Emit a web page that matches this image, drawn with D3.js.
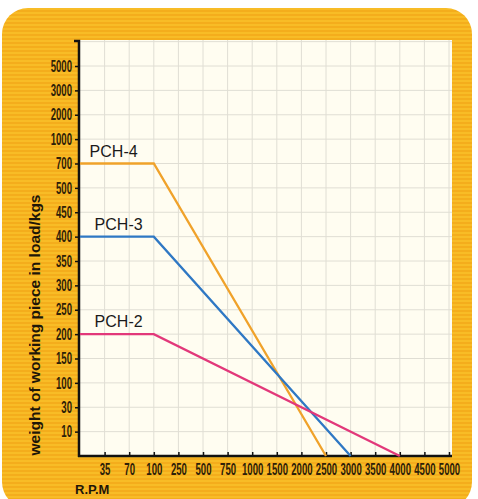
<!DOCTYPE html>
<html>
<head>
<meta charset="utf-8">
<script src="https://cdn.jsdelivr.net/npm/d3@7"></script>
<style>
  body { margin: 0; background: #fff; }
  svg { display: block; }
</style>
</head>
<body>
<div id="chart"></div>
<script>
// categories on each axis (evenly spaced, not proportional)
var xCats = ["35", "70", "100", "250", "500", "750", "1000", "1500", "2000", "2500", "3000", "3500", "4000", "4500", "5000"];
var yCats = ["10", "30", "100", "150", "200", "250", "300", "350", "400", "450", "500", "700", "1000", "2000", "3000", "5000"];

// series: [rpm category, load category]; "0" = axis origin
var pch4 = [["0", "700"], ["100", "700"], ["2500", "0"]];
var pch3 = [["0", "400"], ["100", "400"], ["3000", "0"]];
var pch2 = [["0", "200"], ["100", "200"], ["4000", "0"]];
var seriesNames = ["PCH-4", "PCH-3", "PCH-2"];
var seriesColors = ["#f0a22a", "#2f78c4", "#e2387a"];

var W = 478, H = 499;
var svg = d3.select("#chart").append("svg").attr("width", W).attr("height", H);

// orange card background
var defs = svg.append("defs");
var pat = defs.append("pattern").attr("id", "stripes")
  .attr("width", 4).attr("height", 4).attr("patternUnits", "userSpaceOnUse");
pat.append("rect").attr("width", 4).attr("height", 4).attr("fill", "#f8bc26");
pat.append("rect").attr("y", 2).attr("width", 4).attr("height", 2).attr("fill", "#f4ad1c");

svg.append("rect")
  .attr("x", 2).attr("y", 8).attr("width", 470).attr("height", 500)
  .attr("rx", 26).attr("fill", "url(#stripes)");

var pLeft = 79, pRight = 452, pTop = 40, pBottom = 456;

var x = d3.scalePoint().domain(["0"].concat(xCats)).range([80, 449]);
var y = d3.scalePoint().domain(["0"].concat(yCats)).range([pBottom, 66]);
var step = y.step();

// plot area
svg.append("rect")
  .attr("x", pLeft).attr("y", pTop).attr("width", pRight - pLeft).attr("height", pBottom - pTop)
  .attr("fill", "#fffdf1");

// grid
var grid = svg.append("g").attr("stroke", "#e0ded4").attr("stroke-width", 1);
grid.selectAll(".gx").data(xCats).enter().append("line")
  .attr("x1", function (d) { return x(d); }).attr("x2", function (d) { return x(d); })
  .attr("y1", pTop).attr("y2", pBottom);
grid.selectAll(".gy").data(yCats).enter().append("line")
  .attr("y1", function (d) { return y(d); }).attr("y2", function (d) { return y(d); })
  .attr("x1", pLeft).attr("x2", pRight);
grid.append("line").attr("x1", pLeft).attr("x2", pRight)
  .attr("y1", y("5000") - step).attr("y2", y("5000") - step);

// axes
var xAxis = d3.axisBottom(x).tickValues(xCats).tickSize(-4).tickPadding(8);
var gx = svg.append("g").attr("transform", "translate(0," + pBottom + ")").call(xAxis);
gx.select(".domain").attr("d", "M" + (pLeft - 1) + ",0H" + pRight).attr("stroke", "#111").attr("stroke-width", 2.5);

var yAxis = d3.axisLeft(y).tickValues(yCats).tickSize(4).tickPadding(3);
var gy = svg.append("g").attr("transform", "translate(" + pLeft + ",0)").call(yAxis);
gy.select(".domain").attr("d", "M-5," + (pTop + 1) + "H0V" + (pBottom + 1)).attr("stroke", "#111").attr("stroke-width", 2.5);

svg.selectAll(".tick line").attr("stroke", "#111").attr("stroke-width", 1.5);
svg.selectAll(".tick text")
  .attr("fill", "#2e2108")
  .style("font-family", "'Liberation Sans', Arial, sans-serif")
  .style("font-weight", "bold")
  .style("font-size", "16px");
// condensed look
var sx = 0.6;
gx.selectAll(".tick text").attr("transform", "scale(" + sx + ",1)");
gy.selectAll(".tick text").attr("x", -7 / sx).attr("transform", "scale(" + sx + ",1)");

// lines
var line = d3.line()
  .x(function (d) { return x(d[0]); })
  .y(function (d) { return y(d[1]); });

[pch4, pch3, pch2].forEach(function (s, i) {
  svg.append("path")
    .datum(s)
    .attr("d", line)
    .attr("fill", "none")
    .attr("stroke", seriesColors[i])
    .attr("stroke-width", 2.3);
  svg.append("text")
    .attr("x", x("35") - (i === 0 ? 15 : 10))
    .attr("y", y(s[0][1]) - 7)
    .attr("fill", "#1a1a1a")
    .style("font-family", "'Liberation Sans', Arial, sans-serif")
    .style("font-size", "16px")
    .text(seriesNames[i]);
});

// axis titles
svg.append("text")
  .attr("transform", "translate(40,325) rotate(-90)")
  .attr("text-anchor", "middle")
  .attr("fill", "#1e1608")
  .style("font-family", "'Liberation Sans', Arial, sans-serif")
  .style("font-weight", "bold")
  .style("font-size", "15.5px")
  .text("weight of working piece in load/kgs");

svg.append("text")
  .attr("x", 75).attr("y", 494)
  .attr("fill", "#1e1608")
  .style("font-family", "'Liberation Sans', Arial, sans-serif")
  .style("font-weight", "bold")
  .style("font-size", "13px")
  .text("R.P.M");
</script>
</body>
</html>
